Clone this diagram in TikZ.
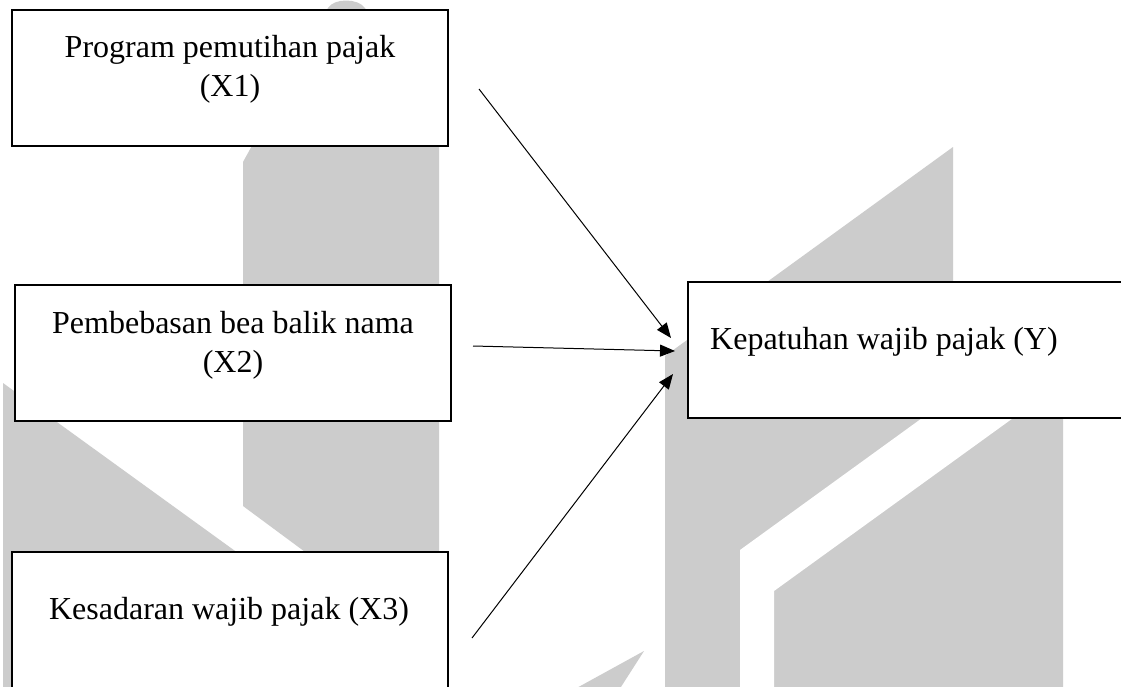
\documentclass[tikz,border=0pt]{standalone}
\usepackage{fontspec}
\setmainfont{Liberation Serif}
\usetikzlibrary{arrows.meta}
\definecolor{wm}{RGB}{204,204,204}
\begin{document}
\begin{tikzpicture}[x=1pt,y=-1pt,
  box/.style={draw=black, line width=2.2pt, fill=white, inner sep=0pt, outer sep=0pt},
  lbl/.style={font=\fontsize{32}{39}\selectfont, inner sep=0pt, align=center},
  conn/.style={line width=1pt, -{Triangle[length=15pt,width=12pt]}},
  wmark/.style={fill=wm, draw=none}]
\useasboundingbox (0,0) rectangle (1121,686);
\clip (0,0) rectangle (1121,686);
\fill[white] (0,0) rectangle (1121,686);
% watermark shapes
\fill[wmark] (243,506) -- (243,162) -- (328,8) .. controls (334,-2) and (358,-2) .. (365,8) -- (439,140) -- (439,651) -- cycle;
\fill[wmark] (3,383) -- (441,700) -- (3,700) -- cycle;
\fill[wmark] (665,700) -- (665,356) -- (953,147) -- (953,300) -- (1063,300) -- (1063,700) -- cycle;
\fill[white] (740,700) -- (740,550) -- (947,400) -- (1038,400) -- (774,591) -- (774,700) -- cycle;
\fill[wmark] (644,651) -- (573,690) -- (619,690) -- cycle;
% boxes
\node[box, minimum width=436pt, minimum height=136pt] (X1) at (230,78) {};
\node[box, minimum width=436pt, minimum height=136pt] (X2) at (233,353) {};
\node[box, minimum width=436pt, minimum height=168pt] (X3) at (230,636) {};
\node[box, minimum width=452pt, minimum height=136pt] (Y) at (914,350) {};
% labels
\node[lbl, anchor=north] (tX1) at (230,35.5) {Program pemutihan pajak\\(X1)};
\node[lbl, anchor=north] (tX2) at (233,311.5) {Pembebasan bea balik nama\\(X2)};
\node[lbl, anchor=base] (tX3) at (229,619) {Kesadaran wajib pajak (X3)};
\node[lbl, anchor=base west] (tY) at (710,349) {Kepatuhan wajib pajak (Y)};
% connectors
\coordinate (s1) at (479,89);
\coordinate (e1) at (671,338);
\coordinate (s2) at (473,346);
\coordinate (e2) at (675,351);
\coordinate (s3) at (472,638);
\coordinate (e3) at (673,374);
\draw[conn] (s1) -- (e1);
\draw[conn] (s2) -- (e2);
\draw[conn] (s3) -- (e3);
\end{tikzpicture}
\end{document}
